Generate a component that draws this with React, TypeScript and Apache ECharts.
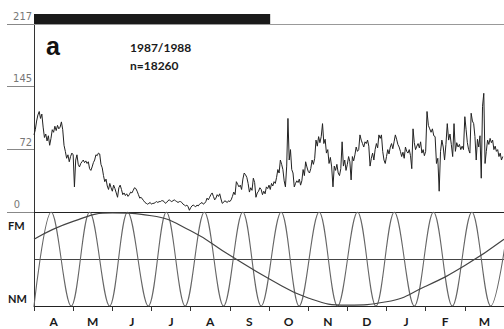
import React, { useEffect, useRef } from 'react';
import * as echarts from 'echarts';

// Month categories (Apr 1987 – Mar 1988)
const months = ['A', 'M', 'J', 'J', 'A', 'S', 'O', 'N', 'D', 'J', 'F', 'M'];
// Tick labels of the count axis
const yTickLabels = [0, 72, 145, 217];
// Daily counts, from 1 April 1987 (366 days)
const dailyCounts = [
  89, 95, 105, 112, 116, 108, 113, 98, 86, 90,
  82, 88, 77, 85, 95, 92, 99, 94, 100, 96,
  98, 104, 95, 77, 70, 62, 66, 58, 64, 68,
  66, 29, 60, 66, 55, 52, 56, 58, 60, 57,
  59, 56, 58, 50, 48, 52, 57, 60, 66, 65,
  68, 67, 55, 51, 42, 35, 38, 30, 26, 33,
  28, 24, 31, 27, 22, 17, 28, 31, 26, 20,
  22, 19, 21, 18, 20, 23, 22, 25, 28, 27,
  24, 20, 16, 17, 15, 13, 11, 10, 9, 10,
  11, 9, 10, 10, 11, 12, 11, 12, 12, 13,
  13, 12, 10, 11, 13, 14, 13, 12, 13, 14,
  13, 12, 11, 12, 12, 11, 9, 8, 7, 8,
  6, 2, 5, 7, 8, 7, 6, 8, 7, 9,
  10, 11, 9, 10, 12, 16, 14, 17, 20, 22,
  18, 14, 16, 20, 18, 21, 15, 10, 11, 13,
  12, 11, 13, 12, 14, 18, 23, 20, 35, 32,
  29, 31, 26, 38, 45, 43, 40, 33, 23, 28,
  25, 39, 34, 17, 22, 24, 28, 26, 20, 24,
  21, 29, 27, 31, 26, 33, 30, 35, 33, 40,
  49, 45, 60, 55, 49, 36, 29, 53, 108, 60,
  72, 49, 45, 29, 33, 36, 34, 38, 31, 36,
  49, 42, 58, 52, 47, 45, 50, 60, 55, 62,
  83, 76, 87, 80, 87, 102, 79, 84, 68, 72,
  56, 63, 52, 29, 53, 48, 55, 45, 42, 50,
  81, 53, 60, 48, 55, 64, 58, 37, 64, 59,
  66, 75, 70, 72, 89, 83, 79, 75, 81, 79,
  83, 76, 53, 62, 68, 60, 72, 79, 74, 89,
  85, 89, 70, 60, 56, 64, 72, 67, 75, 79,
  73, 81, 89, 84, 78, 75, 70, 64, 69, 62,
  75, 70, 68, 72, 65, 50, 96, 80, 72, 76,
  79, 74, 81, 68, 72, 65, 70, 116, 100, 96,
  92, 96, 88, 87, 56, 62, 24, 70, 83, 75,
  60, 78, 102, 83, 90, 78, 64, 102, 70, 80,
  75, 78, 72, 76, 72, 110, 95, 80, 72, 68,
  114, 105, 102, 87, 60, 84, 75, 88, 39, 122,
  137, 56, 70, 83, 78, 85, 80, 83, 72, 76,
  70, 72, 64, 68, 60, 64,
];
// Lunar phases, positions in months from 1 April 1987
const fullMoonPos = [0.44, 1.42, 2.39, 3.38, 4.35, 5.33, 6.31, 7.28, 8.26, 9.2, 10.2, 11.18, 12.15];
const newMoonPos = [0.0, 0.95, 1.93, 2.92, 3.86, 4.84, 5.8, 6.77, 7.75, 8.73, 9.71, 10.68, 11.66];
// Annual curve (0 = NM level, 1 = FM level) at month starts
const annualPos = [0, 1, 2, 3, 4, 5, 6, 7, 8, 9, 10, 11, 12];
const annualVal = [0.71, 0.9, 0.99, 0.96, 0.8, 0.54, 0.29, 0.085, 0.01, 0.045, 0.21, 0.43, 0.71];
// Black period bar (months)
const periodBar = [0, 6.03];

function dayPos(i: number): number {
  const d = new Date(Date.UTC(1987, 3, 1 + i));
  const y = d.getUTCFullYear();
  const mo = d.getUTCMonth();
  const m = (y - 1987) * 12 + mo - 3;
  const dim = new Date(Date.UTC(y, mo + 1, 0)).getUTCDate();
  return m + (d.getUTCDate() - 1) / dim;
}

const SANS = 'Lato, "Open Sans", sans-serif';
const NARROW = '"Liberation Sans Narrow", "DejaVu Sans Condensed", sans-serif';

export default function App() {
  const ref = useRef<HTMLDivElement>(null);
  useEffect(() => {
    const chart = echarts.init(ref.current!, null, { renderer: 'svg' });
    const countData = dailyCounts.map((v, i) => [dayPos(i), v]);
    const lunar = [
      ...fullMoonPos.map((p) => [p, 1]),
      ...newMoonPos.map((p) => [p, 0]),
    ].sort((a, b) => a[0] - b[0]);
    const annual = annualPos.map((p, i) => [p, annualVal[i]]);

    const hiddenX = (gi: number) => ({
      type: 'value', gridIndex: gi, min: 0, max: 12, show: false,
    });

    chart.setOption({
      animation: false,
      backgroundColor: '#fff',
      grid: [
        { left: 34, right: -1, top: 24, height: 188 },
        { left: 34, right: -1, top: 212, height: 94 },
        { left: 34, right: -1, top: 14, height: 10 },
      ],
      xAxis: [
        {
          type: 'value', gridIndex: 0, min: 0, max: 12, position: 'bottom',
          axisLine: { show: true, lineStyle: { color: '#222', width: 1 } },
          axisTick: { show: false }, axisLabel: { show: false }, splitLine: { show: false },
        },
        {
          type: 'value', gridIndex: 0, min: 0, max: 12, position: 'top',
          axisLine: { show: true, lineStyle: { color: '#999', width: 1 } },
          axisTick: { show: false }, axisLabel: { show: false }, splitLine: { show: false },
        },
        {
          type: 'category', gridIndex: 1, data: months, boundaryGap: true, position: 'bottom',
          axisLine: { show: true, lineStyle: { color: '#222', width: 1 } },
          axisTick: { show: true, length: 5, lineStyle: { color: '#333' } },
          axisLabel: {
            interval: 0, margin: 9, color: '#1a1a1a', fontFamily: SANS,
            fontWeight: 'bold', fontSize: 12,
          },
        },
        hiddenX(1),
        hiddenX(2),
      ],
      yAxis: [
        {
          type: 'value', gridIndex: 0, min: 0, max: 217,
          axisLine: { show: true, lineStyle: { color: '#333', width: 1 } },
          axisTick: { show: true, customValues: yTickLabels, length: 27, lineStyle: { color: '#888' } },
          splitLine: { show: false },
          axisLabel: {
            customValues: yTickLabels,
            margin: 2,
            verticalAlign: 'bottom',
            formatter: (v: number) => (v === 0 ? '{z|0}' : '{n|' + v + '}'),
            rich: {
              n: { color: '#777', fontFamily: NARROW, fontSize: 11, padding: [0, 0, 2, 0] },
              z: { color: '#777', fontFamily: NARROW, fontSize: 11, padding: [0, 12, 2, 0] },
            },
          },
        },
        {
          type: 'value', gridIndex: 1, min: 0, max: 1, interval: 0.5,
          axisLine: { show: true, lineStyle: { color: '#333', width: 1 } },
          axisTick: { show: false },
          splitLine: { show: true, lineStyle: { color: '#444', width: 1 } },
          axisLabel: {
            customValues: [0, 1],
            align: 'left',
            margin: 26,
            formatter: (v: number) => (v === 1 ? '{fm|FM}' : '{nm|NM}'),
            rich: {
              fm: { fontFamily: SANS, fontWeight: 'bold', fontSize: 11, color: '#1a1a1a', padding: [26, 0, 0, 0] },
              nm: { fontFamily: SANS, fontWeight: 'bold', fontSize: 11, color: '#1a1a1a', padding: [0, 0, 16, 0] },
            },
          },
        },
        { type: 'value', gridIndex: 2, min: 0, max: 1, show: false },
      ],
      graphic: [
        { type: 'text', x: 46, y: 46, style: { text: 'a', font: 'bold 25px "Liberation Sans", sans-serif', fill: '#111', textVerticalAlign: 'middle' } },
        { type: 'text', x: 130, y: 47, style: { text: '1987/1988', font: 'bold 12px Lato, sans-serif', fill: '#1a1a1a', textVerticalAlign: 'middle' } },
        { type: 'text', x: 130, y: 65, style: { text: 'n=18260', font: 'bold 12px Lato, sans-serif', fill: '#1a1a1a', textVerticalAlign: 'middle' } },
      ],
      series: [
        {
          type: 'line', xAxisIndex: 0, yAxisIndex: 0, data: countData,
          symbol: 'none', clip: true,
          lineStyle: { color: '#222', width: 1 },
        },
        {
          type: 'line', xAxisIndex: 3, yAxisIndex: 1, data: lunar,
          symbol: 'none', clip: true, smooth: 0.36,
          lineStyle: { color: '#666', width: 1.1 },
        },
        {
          type: 'line', xAxisIndex: 3, yAxisIndex: 1, data: annual,
          symbol: 'none', clip: true, smooth: 0.5,
          lineStyle: { color: '#444', width: 1.2 },
        },
        {
          type: 'line', xAxisIndex: 4, yAxisIndex: 2,
          data: periodBar.map((p) => [p, 1]),
          symbol: 'none', clip: true,
          lineStyle: { width: 0, color: '#1a1a1a' },
          areaStyle: { color: '#1a1a1a', opacity: 1 },
        },
      ],
    });
    return () => chart.dispose();
  }, []);
  return (
    <div
      ref={ref}
      style={{ position: 'absolute', left: 0, top: 0, width: 504, height: 329, background: '#fff' }}
    />
  );
}
